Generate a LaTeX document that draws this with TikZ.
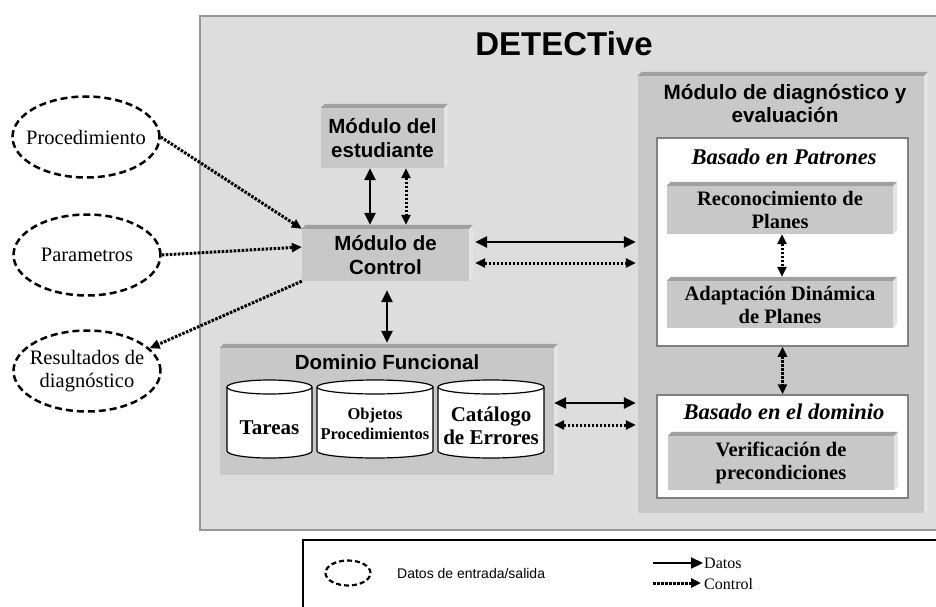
\documentclass[tikz,border=0pt]{standalone}
\usepackage{fontspec}
\setmainfont{Liberation Serif}
\setsansfont{Liberation Sans}
\usetikzlibrary{arrows.meta,calc,shapes.geometric}
\definecolor{outerfill}{RGB}{221,221,221}
\definecolor{outerline}{RGB}{150,150,150}
\definecolor{facegray}{RGB}{200,200,200}
\definecolor{bevtop}{RGB}{160,160,160}
\definecolor{bevside}{RGB}{228,228,228}
\definecolor{wline}{RGB}{128,128,128}
\newcommand\bevelbox[1]{%
  \fill[bevtop] (#1.north west) -- ++(4,-4) -- ($(#1.north east)+(4,-4)$) -- (#1.north east) -- cycle;
  \fill[bevside] (#1.north east) -- ++(4,-4) -- ($(#1.south east)+(4,-4)$) -- (#1.south east) -- cycle;}
\newcommand\cylshape[4]{%
  \pgfmathsetmacro\myrx{(#2-#1)/2}%
  \filldraw[fill=white, line width=1.2pt] (#1,#3) -- (#1,#4) arc[start angle=180,end angle=0,x radius=\myrx,y radius=7] -- (#2,#3) arc[start angle=0,end angle=-180,x radius=\myrx,y radius=7] -- cycle;
  \draw[line width=1.2pt] (#1,#3) arc[start angle=180,end angle=0,x radius=\myrx,y radius=7];}
\begin{document}
\begin{tikzpicture}[x=1pt,y=-1pt,
  dtip/.tip={Triangle[length=12pt,width=11pt]},
  ctip/.tip={Triangle[length=10pt,width=9pt]},
  dat/.style={line width=2.6pt},
  ctl/.style={line width=3pt, dash pattern=on 2.6pt off 1.4pt},
  io/.style={ellipse, draw, line width=2.5pt, dash pattern=on 7pt off 4pt, minimum width=147pt, minimum height=81pt, inner xsep=-8pt, inner ysep=0pt, align=center, font=\fontsize{20.5}{23}\selectfont},
  modbox/.style={rectangle, fill=facegray, inner sep=0pt, align=center},
  sansb/.style={font=\sffamily\bfseries\fontsize{20.5}{24}\selectfont},
  serifb/.style={font=\bfseries\fontsize{20.5}{23}\selectfont},
  wbox/.style={rectangle, fill=white, draw=wline, line width=1.5pt, inner sep=0pt},
  cyltext/.style={align=center, inner sep=0pt, font=\bfseries\fontsize{21}{23}\selectfont}]
\useasboundingbox (0,0) rectangle (936,607);
% outer box
\node[rectangle, fill=outerfill, draw=outerline, line width=2pt, anchor=north west, minimum width=760pt, minimum height=514pt, inner sep=0pt] (main) at (199,15) {};
\node[font=\sffamily\bfseries\fontsize{33}{36}\selectfont, inner sep=0pt] (title) at (564,44) {DETECTive};
% external data
\node[io] (proc) at (86,137) {Procedimiento};
\node[io] (param) at (87,255) {Parametros};
\node[io] (res) at (87,371) {Resultados de\\diagnóstico};
% student / control
\node[modbox, sansb, minimum width=123pt, minimum height=60pt] (stu) at (382.5,138) {Módulo del\\estudiante};
\bevelbox{stu}
\node[modbox, sansb, minimum width=167pt, minimum height=52pt] (ctrl) at (385.5,255) {Módulo de\\Control};
\bevelbox{ctrl}
% dominio funcional
\node[modbox, minimum width=334pt, minimum height=127pt] (dom) at (387,411.5) {};
\bevelbox{dom}
\node[sansb, inner sep=0pt] (domt) at (387,362) {Dominio Funcional};
\cylshape{227}{312}{387}{451}
\cylshape{317}{433}{387}{451}
\cylshape{438}{544}{387}{451}
\node[cyltext] (tar) at (269.5,428) {Tareas};
\node[cyltext, font=\bfseries\fontsize{16.5}{20}\selectfont] (obj) at (375,424) {Objetos\\Procedimientos};
\node[cyltext] (cat) at (491,426) {Catálogo\\de Errores};
% diagnostic module
\node[modbox, minimum width=286pt, minimum height=437pt] (diag) at (781,294.5) {};
\bevelbox{diag}
\node[align=center, inner sep=0pt, font=\sffamily\bfseries\fontsize{20.7}{23}\selectfont] (diagt) at (785,103.5) {Módulo de diagnóstico y\\evaluación};
\node[wbox, minimum width=251pt, minimum height=208pt] (pat) at (782.5,242) {};
\node[inner sep=0pt, font=\bfseries\itshape\fontsize{22.5}{26}\selectfont] (patt) at (784,157) {Basado en Patrones};
\node[modbox, serifb, minimum width=226pt, minimum height=48pt] (recon) at (780,210) {Reconocimiento de\\Planes};
\bevelbox{recon}
\node[modbox, serifb, minimum width=226pt, minimum height=47pt] (adapt) at (780,304.5) {Adaptación Dinámica\\de Planes};
\bevelbox{adapt}
\node[wbox, minimum width=251pt, minimum height=103pt] (domw) at (782.5,446.5) {};
\node[inner sep=0pt, font=\bfseries\itshape\fontsize{22.5}{26}\selectfont] (domwt) at (784,412) {Basado en el dominio};
\node[modbox, serifb, minimum width=226pt, minimum height=54pt] (verif) at (781,463) {Verificación de\\precondiciones};
\bevelbox{verif}
% connectors
\draw[ctl, -ctip] (proc.east) -- (ctrl.north west);
\draw[ctl, -ctip] (param.east) -- ($(ctrl.west)+(0,-8)$);
\draw[ctl, -ctip] (ctrl.south west) -- (res.20);
\draw[dat, dtip-dtip] ($(stu.south)+(-12.5,0)$) -- ($(stu.south |- ctrl.north)+(-12.5,-4)$);
\draw[ctl, ctip-ctip] ($(stu.south)+(23.5,0)$) -- ($(stu.south |- ctrl.north)+(23.5,-4)$);
\draw[dat, dtip-dtip] ($(ctrl.east)+(6,-13)$) -- ($(ctrl.east -| diag.west)+(-2,-13)$);
\draw[ctl, ctip-ctip] ($(ctrl.east)+(6,8)$) -- ($(ctrl.east -| diag.west)+(-2,8)$);
\draw[dat, dtip-dtip] ($(ctrl.south)+(1.5,9)$) -- ($(dom.north)+(0,-5)$);
\draw[dat, dtip-dtip] ($(dom.east)+(0,-8.5)$) -- ($(dom.east -| diag.west)+(-2,-8.5)$);
\draw[ctl, ctip-ctip] ($(dom.east)+(0,13.5)$) -- ($(dom.east -| diag.west)+(-2,13.5)$);
\draw[ctl, ctip-ctip] ($(recon.south)+(2,0)$) -- ($(adapt.north)+(2,-4)$);
\draw[ctl, ctip-ctip] (pat.south) -- (domw.north);
% legend
\node[rectangle, draw, line width=1.5pt, anchor=north west, minimum width=700pt, minimum height=100pt, inner sep=0pt] (legend) at (302,539) {};
\node[ellipse, draw, line width=2.2pt, dash pattern=on 5pt off 3pt, minimum width=45pt, minimum height=25pt, inner sep=0pt] (lio) at (348,573) {};
\node[anchor=west, inner sep=0pt, font=\sffamily\fontsize{14}{16}\selectfont] (liot) at (397,573) {Datos de entrada/salida};
\coordinate (lda) at (653,563);
\coordinate (ldb) at (703,563);
\coordinate (lca) at (653,583);
\coordinate (lcb) at (701,583);
\draw[line width=2.2pt, -dtip] (lda) -- (ldb);
\draw[ctl, -ctip] (lca) -- (lcb);
\node[anchor=west, inner sep=1pt, font=\fontsize{16}{18}\selectfont] (ldt) at (ldb) {Datos};
\node[anchor=west, inner sep=1pt, font=\fontsize{16}{18}\selectfont] (lct) at ($(lcb)+(2,1)$) {Control};
\end{tikzpicture}
\end{document}
